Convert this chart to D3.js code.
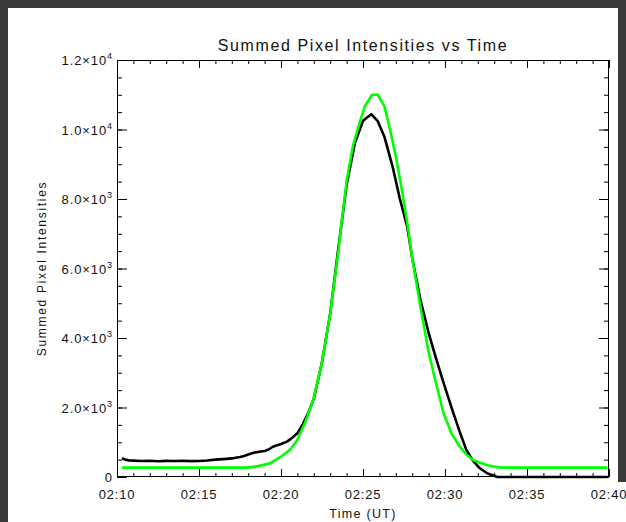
<!DOCTYPE html>
<html>
<head>
<meta charset="utf-8">
<script src="https://cdn.jsdelivr.net/npm/d3@7/dist/d3.min.js"></script>
<style>
  html, body { margin: 0; padding: 0; background: #3a3a3a; }
  svg { display: block; }
  text { font-family: "Liberation Sans", Arial, sans-serif; fill: #111; }
</style>
</head>
<body>
<svg id="chart" width="626" height="522"></svg>
<script>
// Observed summed intensities (black)
const obsTime = ["02:10:18","02:10:30","02:10:45","02:11:00","02:11:30","02:12:00","02:12:30","02:13:00",
  "02:13:30","02:14:00","02:14:30","02:15:00","02:15:30","02:16:00","02:16:30","02:17:00","02:17:30",
  "02:17:45","02:18:00","02:18:20","02:18:40","02:19:00","02:19:15","02:19:30","02:20:00","02:20:20",
  "02:20:35","02:21:00","02:21:20","02:21:40","02:22:00","02:22:30","02:23:00","02:23:30","02:24:00",
  "02:24:30","02:25:00","02:25:30","02:25:54","02:26:18","02:26:48","02:27:15","02:27:42","02:28:00",
  "02:28:30","02:29:00","02:29:24","02:29:51","02:30:30","02:30:54","02:31:18","02:31:42","02:32:06",
  "02:32:36","02:33:12","02:39:54"];
const obsCounts = [540,500,475,470,462,468,455,465,
  460,468,458,462,475,500,515,535,575,
  605,650,700,725,750,790,870,950,1010,
  1090,1260,1520,1850,2250,3300,4700,6600,8400,
  9600,10250,10440,10240,9800,8940,8000,7200,6300,
  5100,4150,3500,2800,1850,1300,780,470,260,
  100,0,0];

// Fitted profile (green)
const fitTime = ["02:10:18","02:18:00","02:18:40","02:19:20","02:19:57","02:20:33","02:21:00","02:21:28",
  "02:21:58","02:22:30","02:23:00","02:23:30","02:23:40","02:24:01","02:24:23","02:24:48","02:25:07",
  "02:25:33","02:25:54","02:26:18","02:26:36","02:27:00","02:27:24","02:27:44","02:28:00","02:28:30",
  "02:29:00","02:29:24","02:29:54","02:30:24","02:30:54","02:31:18","02:31:42","02:32:12","02:32:36",
  "02:33:00","02:33:24","02:39:54"];
const fitCounts = [270,270,320,395,570,780,1070,1560,
  2220,3300,4700,6500,7210,8570,9520,10210,10670,
  11000,11000,10670,10100,9230,8190,7210,6300,4900,
  3600,2800,1850,1250,870,650,490,400,340,
  300,270,270];

const xTickLabels = ["02:10","02:15","02:20","02:25","02:30","02:35","02:40"];
const yTickValues = [0,2000,4000,6000,8000,10000,12000];

const W = 626, H = 522;
const frame = {left: 117, right: 609, top: 60, bottom: 477};

const parse = d3.utcParse("%H:%M:%S");
const svg = d3.select("#chart");

// white page area (wider along the bottom label strip)
svg.append("path")
  .attr("d", `M8,8 H618 V482 H${W} V${H} H8 Z`)
  .attr("fill", "#fff");

const x = d3.scaleUtc()
  .domain([parse("02:10:00"), parse("02:40:00")])
  .range([frame.left, frame.right]);
const y = d3.scaleLinear().domain([0, 12000]).range([frame.bottom, frame.top]);

const majorX = xTickLabels.map(s => parse(s + ":00"));
const minorX = d3.utcMinute.range(parse("02:10:00"), parse("02:40:01"));
const minorY = d3.range(0, 12001, 500);

const pw = frame.right - frame.left, ph = frame.bottom - frame.top;

// inward ticks on all four sides
function tickAxis(gen, transform, size) {
  const g = svg.append("g").attr("transform", transform).call(gen.tickSize(size).tickFormat(""));
  g.select(".domain").remove();
  g.selectAll("line").attr("stroke", "#000").attr("stroke-width", 1);
  return g;
}
const xMaj = 8, xMin = 4, yMaj = 10, yMin = 5;
tickAxis(d3.axisBottom(x).tickValues(minorX), `translate(0,${frame.bottom})`, -xMin);
tickAxis(d3.axisBottom(x).tickValues(majorX), `translate(0,${frame.bottom})`, -xMaj);
tickAxis(d3.axisTop(x).tickValues(minorX), `translate(0,${frame.top})`, -xMin);
tickAxis(d3.axisTop(x).tickValues(majorX), `translate(0,${frame.top})`, -xMaj);
tickAxis(d3.axisLeft(y).tickValues(minorY), `translate(${frame.left},0)`, -yMin);
tickAxis(d3.axisLeft(y).tickValues(yTickValues), `translate(${frame.left},0)`, -yMaj);
tickAxis(d3.axisRight(y).tickValues(minorY), `translate(${frame.right},0)`, -yMin);
tickAxis(d3.axisRight(y).tickValues(yTickValues), `translate(${frame.right},0)`, -yMaj);

// frame
svg.append("rect")
  .attr("x", frame.left + 0.5).attr("y", frame.top + 0.5)
  .attr("width", pw - 1).attr("height", ph - 1)
  .attr("fill", "none").attr("stroke", "#000").attr("stroke-width", 1);

// tick labels
const xl = svg.append("g");
xTickLabels.forEach((s, i) => {
  xl.append("text")
    .attr("x", x(majorX[i])).attr("y", 499)
    .attr("text-anchor", "middle")
    .attr("font-size", 13).attr("letter-spacing", 0.8)
    .text(s);
});

const yl = svg.append("g");
yTickValues.forEach(v => {
  const t = yl.append("text")
    .attr("x", frame.left - 4).attr("y", y(v) + 5)
    .attr("text-anchor", "end")
    .attr("font-size", 13).attr("letter-spacing", 0.9);
  if (v === 0) { t.text("0"); return; }
  const e = Math.floor(Math.log10(v));
  const m = (v / Math.pow(10, e)).toFixed(1);
  t.append("tspan").text(m + "\u00d710");
  t.append("tspan").attr("dy", -6).attr("font-size", 9).text(String(e));
});

// series lines
const line = d3.line().x(d => x(d[0])).y(d => y(d[1]));
const obs = obsTime.map((s, i) => [parse(s), obsCounts[i]]);
const fit = fitTime.map((s, i) => [parse(s), fitCounts[i]]);

svg.append("path").datum(obs).attr("d", line)
  .attr("fill", "none").attr("stroke", "#000").attr("stroke-width", 2.6)
  .attr("stroke-linejoin", "round");
svg.append("path").datum(fit).attr("d", line)
  .attr("fill", "none").attr("stroke", "#00ff00").attr("stroke-width", 2.6)
  .attr("stroke-linejoin", "round");

// titles
svg.append("text")
  .attr("x", (frame.left + frame.right) / 2).attr("y", 51)
  .attr("text-anchor", "middle").attr("font-size", 16).attr("letter-spacing", 1.6)
  .text("Summed Pixel Intensities vs Time");

svg.append("text")
  .attr("x", (frame.left + frame.right) / 2).attr("y", 518)
  .attr("text-anchor", "middle").attr("font-size", 12.5).attr("letter-spacing", 1.3)
  .text("Time (UT)");

svg.append("text")
  .attr("transform", `translate(46,${(frame.top + frame.bottom) / 2}) rotate(-90)`)
  .attr("text-anchor", "middle").attr("font-size", 12).attr("letter-spacing", 1.7)
  .text("Summed Pixel Intensities");
</script>
</body>
</html>
